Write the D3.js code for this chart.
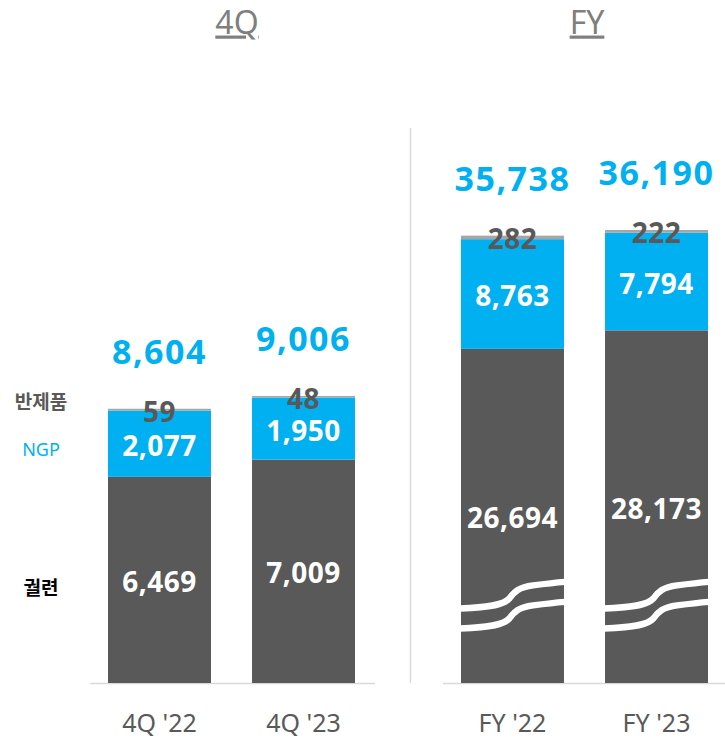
<!DOCTYPE html>
<html>
<head>
<meta charset="utf-8">
<script src="https://cdn.jsdelivr.net/npm/d3@7"></script>
<style>
  body { margin: 0; background: #fff; }
  text { font-family: "Noto Sans", "Noto Sans CJK KR", sans-serif; }
</style>
</head>
<body>
<div id="chart"></div>
<script>
// data
var seriesKeys = ["cig", "ngp", "semi"];
var seriesNames = ["궐련", "NGP", "반제품"];

var qCategories = ["4Q '22", "4Q '23"];
var qCig = [6469, 7009];
var qNgp = [2077, 1950];
var qSemi = [59, 48];
var qTotals = [8604, 9006];

var fyCategories = ["FY '22", "FY '23"];
var fyCig = [26694, 28173];
var fyNgp = [8763, 7794];
var fySemi = [282, 222];
var fyTotals = [35738, 36190];

var colors = { cig: "#595959", ngp: "#00b0f0", semi: "#a6a6a6" };
var labelColors = { cig: "#ffffff", ngp: "#ffffff", semi: "#595959" };

var width = 725, height = 742, baseY = 683;

var svg = d3.select("#chart").append("svg")
    .attr("width", width)
    .attr("height", height);

function makeRows(cats, cig, ngp, semi, totals) {
    return cats.map(function (c, i) {
        return { cat: c, cig: cig[i], ngp: ngp[i], semi: semi[i], total: totals[i] };
    });
}

var fmt = d3.format(",");

function drawPanel(cfg) {
    var rows = makeRows(cfg.cats, cfg.cig, cfg.ngp, cfg.semi, cfg.totals);
    var stack = d3.stack().keys(seriesKeys)(rows);

    var x = d3.scaleBand().domain(cfg.cats).range(cfg.xRange).paddingInner(0.285).paddingOuter(0);
    var y = d3.scaleLinear().domain([0, d3.max(cfg.totals)]).range([baseY, cfg.topY]);

    var g = svg.append("g");

    // axis line
    g.append("line")
        .attr("x1", cfg.axisRange[0]).attr("x2", cfg.axisRange[1])
        .attr("y1", baseY + 0.5).attr("y2", baseY + 0.5)
        .attr("stroke", "#d9d9d9").attr("stroke-width", 1.5);

    // bars
    var layers = g.selectAll("g.layer")
        .data(stack)
        .enter().append("g")
        .attr("class", "layer")
        .attr("fill", function (d) { return colors[d.key]; });

    layers.selectAll("rect")
        .data(function (d) { return d; })
        .enter().append("rect")
        .attr("x", function (d) { return x(d.data.cat); })
        .attr("width", x.bandwidth())
        .attr("y", function (d) { return y(d[1]); })
        .attr("height", function (d) { return y(d[0]) - y(d[1]); });

    // axis break marks (white wavy lines across the dark bars)
    if (cfg.breakValue) {
        cfg.cats.forEach(function (c) {
            var x0 = x(c), w = x.bandwidth(), yc = y(cfg.breakValue);
            [0, 20].forEach(function (off) {
                var p = d3.path();
                var Y = function (v) { return yc + off + v; };
                p.moveTo(x0 - 1, Y(13));
                p.bezierCurveTo(x0 + 0.3 * w, Y(12), x0 + 0.42 * w, Y(9), x0 + 0.47 * w, Y(3));
                p.bezierCurveTo(x0 + 0.52 * w, Y(-4), x0 + 0.56 * w, Y(-8), x0 + 0.7 * w, Y(-10));
                p.bezierCurveTo(x0 + 0.85 * w, Y(-12), x0 + 0.95 * w, Y(-13), x0 + w + 1, Y(-13.5));
                g.append("path")
                    .attr("d", p.toString())
                    .attr("fill", "none")
                    .attr("stroke", "#fff")
                    .attr("stroke-width", 6.5);
            });
        });
    }

    // segment labels
    stack.forEach(function (layer) {
        g.selectAll(null)
            .data(layer)
            .enter().append("text")
            .attr("x", function (d) { return x(d.data.cat) + x.bandwidth() / 2; })
            .attr("y", function (d) {
                if (layer.key === "semi") return y(d[1]) + 3;
                return (y(d[0]) + y(d[1])) / 2 + 2;
            })
            .attr("dy", "0.36em")
            .attr("text-anchor", "middle")
            .attr("font-size", 28)
            .attr("font-weight", 700)
            .attr("letter-spacing", 0.5)
            .attr("fill", labelColors[layer.key])
            .text(function (d) { return fmt(d.data[layer.key]); });
    });

    // totals
    g.selectAll("text.total")
        .data(rows)
        .enter().append("text")
        .attr("class", "total")
        .attr("x", function (d) { return x(d.cat) + x.bandwidth() / 2; })
        .attr("y", function (d) { return y(d.total) - 57; })
        .attr("dy", "0.36em")
        .attr("text-anchor", "middle")
        .attr("font-size", 34)
        .attr("font-weight", 700)
        .attr("letter-spacing", 1.5)
        .attr("fill", "#00b0f0")
        .text(function (d) { return fmt(d.total); });

    // category labels
    g.selectAll("text.cat")
        .data(cfg.cats)
        .enter().append("text")
        .attr("class", "cat")
        .attr("x", function (d) { return x(d) + x.bandwidth() / 2; })
        .attr("y", 723)
        .attr("dy", "0.36em")
        .attr("text-anchor", "middle")
        .attr("font-size", 25)
        .attr("fill", "#595959")
        .text(function (d) { return d; });

    // panel title
    g.append("text")
        .attr("x", cfg.titleX)
        .attr("y", 22)
        .attr("dy", "0.36em")
        .attr("text-anchor", "middle")
        .attr("font-size", 32)
        .attr("fill", "#7f7f7f")
        .attr("text-decoration", "underline")
        .text(cfg.title);

    return { x: x, y: y, stack: stack };
}

var left = drawPanel({
    cats: qCategories, cig: qCig, ngp: qNgp, semi: qSemi, totals: qTotals,
    xRange: [108, 355], topY: 396, axisRange: [90, 375],
    title: "4Q", titleX: 237
});

drawPanel({
    cats: fyCategories, cig: fyCig, ngp: fyNgp, semi: fySemi, totals: fyTotals,
    xRange: [461, 708], topY: 230, axisRange: [443, 725],
    title: "FY", titleX: 587, breakValue: 7000
});

// separator
svg.append("line")
    .attr("x1", 410.5).attr("x2", 410.5)
    .attr("y1", 128).attr("y2", baseY)
    .attr("stroke", "#d9d9d9").attr("stroke-width", 1.5);

// legend labels next to first bar
var legendColors = { cig: "#000000", ngp: "#00b0f0", semi: "#595959" };
var legendWeight = { cig: 700, ngp: 400, semi: 700 };
var firstCat = qCategories[0];
var legendY = {
    cig: function (d) { return (left.y(d[0]) + left.y(d[1])) / 2 + 8; },
    ngp: function (d) { return (left.y(d[0]) + left.y(d[1])) / 2 + 6; },
    semi: function (d) { return left.y(d[1]) - 7; }
};
left.stack.forEach(function (layer, i) {
    var d = layer.find(function (e) { return e.data.cat === firstCat; });
    svg.append("text")
        .attr("x", 41)
        .attr("y", legendY[layer.key](d))
        .attr("dy", "0.36em")
        .attr("text-anchor", "middle")
        .attr("font-size", layer.key === "ngp" ? 18 : 19)
        .attr("font-weight", legendWeight[layer.key])
        .attr("fill", legendColors[layer.key])
        .text(seriesNames[i]);
});
</script>
</body>
</html>
